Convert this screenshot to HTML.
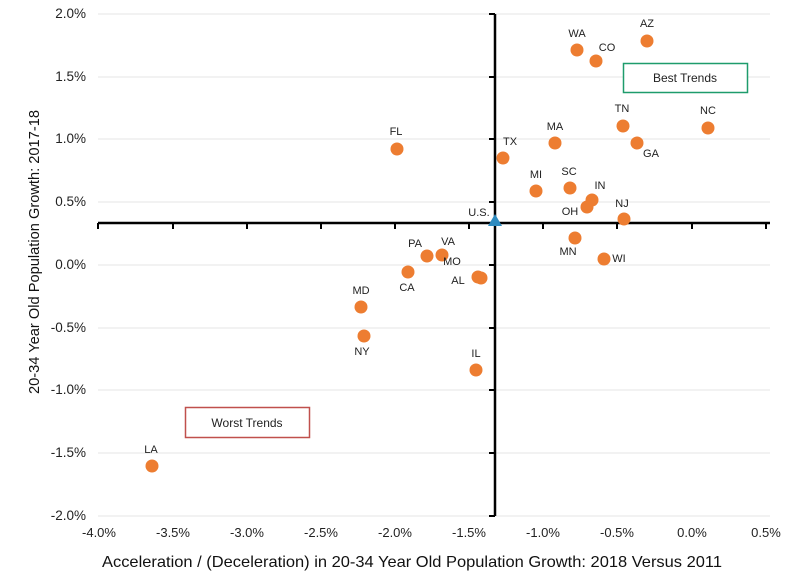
<!DOCTYPE html><html><head><style>body{margin:0;background:#fff}svg{display:block;font-family:"Liberation Sans",Arial,sans-serif}</style></head><body>
<svg width="800" height="583" viewBox="0 0 800 583">
<g stroke="#e6e6e6" stroke-width="1">
<line x1="98" x2="770" y1="14" y2="14"/><line x1="98" x2="770" y1="77" y2="77"/><line x1="98" x2="770" y1="139" y2="139"/><line x1="98" x2="770" y1="202" y2="202"/><line x1="98" x2="770" y1="265" y2="265"/><line x1="98" x2="770" y1="328" y2="328"/><line x1="98" x2="770" y1="390" y2="390"/><line x1="98" x2="770" y1="453" y2="453"/><line x1="98" x2="770" y1="516" y2="516"/>
</g>
<g stroke="#000" stroke-width="2.5">
<line x1="98" x2="770" y1="223" y2="223"/><line x1="495" x2="495" y1="14" y2="516"/>
</g>
<g stroke="#000" stroke-width="2">
<line x1="98" x2="98" y1="223" y2="229"/><line x1="173" x2="173" y1="223" y2="229"/><line x1="247" x2="247" y1="223" y2="229"/><line x1="321" x2="321" y1="223" y2="229"/><line x1="395" x2="395" y1="223" y2="229"/><line x1="469" x2="469" y1="223" y2="229"/><line x1="543" x2="543" y1="223" y2="229"/><line x1="617" x2="617" y1="223" y2="229"/><line x1="692" x2="692" y1="223" y2="229"/><line x1="766" x2="766" y1="223" y2="229"/>
<line x1="489" x2="495" y1="14" y2="14"/><line x1="489" x2="495" y1="77" y2="77"/><line x1="489" x2="495" y1="139" y2="139"/><line x1="489" x2="495" y1="202" y2="202"/><line x1="489" x2="495" y1="265" y2="265"/><line x1="489" x2="495" y1="328" y2="328"/><line x1="489" x2="495" y1="390" y2="390"/><line x1="489" x2="495" y1="453" y2="453"/><line x1="489" x2="495" y1="516" y2="516"/>
</g>
<g font-size="13.5" fill="#222" text-anchor="end">
<text x="86" y="18">2.0%</text><text x="86" y="81">1.5%</text><text x="86" y="143">1.0%</text><text x="86" y="206">0.5%</text><text x="86" y="269">0.0%</text><text x="86" y="332">-0.5%</text><text x="86" y="394">-1.0%</text><text x="86" y="457">-1.5%</text><text x="86" y="520">-2.0%</text>
</g>
<g font-size="13" fill="#222" text-anchor="middle">
<text x="99" y="537">-4.0%</text><text x="173" y="537">-3.5%</text><text x="247" y="537">-3.0%</text><text x="321" y="537">-2.5%</text><text x="395" y="537">-2.0%</text><text x="469" y="537">-1.5%</text><text x="543" y="537">-1.0%</text><text x="617" y="537">-0.5%</text><text x="692" y="537">0.0%</text><text x="766" y="537">0.5%</text>
</g>
<text x="102" y="567" font-size="16" fill="#111" textLength="620" lengthAdjust="spacingAndGlyphs">Acceleration / (Deceleration) in 20-34 Year Old Population Growth: 2018 Versus 2011</text>
<text transform="translate(39,394) rotate(-90)" font-size="15" fill="#111" textLength="284" lengthAdjust="spacingAndGlyphs">20-34 Year Old Population Growth: 2017-18</text>
<g fill="#ed7d31">
<circle cx="152" cy="466" r="6.5"/><circle cx="361" cy="307" r="6.5"/><circle cx="364" cy="336" r="6.5"/><circle cx="408" cy="272" r="6.5"/><circle cx="427" cy="256" r="6.5"/><circle cx="442" cy="255" r="6.5"/><circle cx="478" cy="277" r="6.5"/><circle cx="481" cy="278" r="6.5"/><circle cx="476" cy="370" r="6.5"/><circle cx="397" cy="149" r="6.5"/><circle cx="503" cy="158" r="6.5"/><circle cx="536" cy="191" r="6.5"/><circle cx="555" cy="143" r="6.5"/><circle cx="570" cy="188" r="6.5"/><circle cx="592" cy="200" r="6.5"/><circle cx="587" cy="207" r="6.5"/><circle cx="624" cy="219" r="6.5"/><circle cx="575" cy="238" r="6.5"/><circle cx="604" cy="259" r="6.5"/><circle cx="577" cy="50" r="6.5"/><circle cx="596" cy="61" r="6.5"/><circle cx="647" cy="41" r="6.5"/><circle cx="623" cy="126" r="6.5"/><circle cx="637" cy="143" r="6.5"/><circle cx="708" cy="128" r="6.5"/>
</g>
<polygon points="495,214 488,226 502,226" fill="#2e8bc0"/>
<g font-size="11" fill="#222" text-anchor="middle">
<text x="151" y="453">LA</text><text x="361" y="294">MD</text><text x="362" y="355">NY</text><text x="407" y="291">CA</text><text x="415" y="247">PA</text><text x="448" y="245">VA</text><text x="452" y="265">MO</text><text x="458" y="284">AL</text><text x="476" y="357">IL</text><text x="396" y="135">FL</text><text x="510" y="145">TX</text><text x="536" y="178">MI</text><text x="555" y="130">MA</text><text x="569" y="175">SC</text><text x="600" y="189">IN</text><text x="570" y="215">OH</text><text x="622" y="207">NJ</text><text x="568" y="255">MN</text><text x="619" y="262">WI</text><text x="577" y="37">WA</text><text x="607" y="51">CO</text><text x="647" y="27">AZ</text><text x="622" y="112">TN</text><text x="651" y="157">GA</text><text x="708" y="114">NC</text><text x="479" y="216">U.S.</text>
</g>
<rect x="623.5" y="63.5" width="124" height="29" fill="#fff" stroke="#1e9c6c" stroke-width="1.5"/>
<text x="685" y="82" font-size="12" fill="#222" text-anchor="middle">Best Trends</text>
<rect x="185.5" y="407.5" width="124" height="30" fill="#fff" stroke="#c0504d" stroke-width="1.5"/>
<text x="247" y="427" font-size="12" fill="#222" text-anchor="middle">Worst Trends</text>
</svg></body></html>
